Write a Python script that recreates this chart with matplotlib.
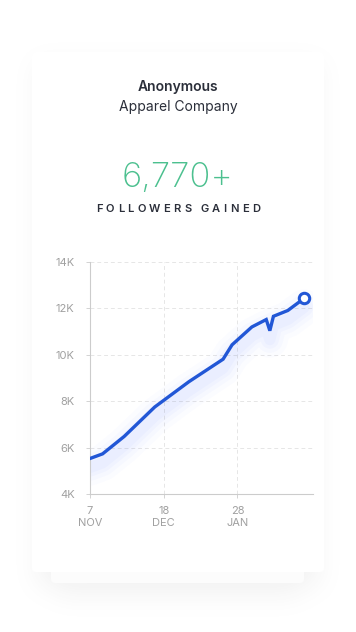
import datetime as dt
import numpy as np
import matplotlib
matplotlib.use("Agg")
import matplotlib.pyplot as plt
from matplotlib.patches import FancyBboxPatch
from matplotlib.transforms import offset_copy
from matplotlib.ticker import FuncFormatter

# ---- data ----
start = dt.date(2019, 11, 7)
day_offsets = [0, 7, 19, 36, 55, 74, 79, 90, 98, 100, 102, 110, 119]
followers = [5530, 5730, 6480, 7750, 8840, 9810, 10430, 11200, 11520, 11040, 11660, 11910, 12430]
dates = [start + dt.timedelta(days=d) for d in day_offsets]
tick_dates = [dt.date(2019, 11, 7), dt.date(2019, 12, 18), dt.date(2020, 1, 28)]
tick_labels = ["7\nNOV", "18\nDEC", "28\nJAN"]
y_ticks = [4000, 6000, 8000, 10000, 12000, 14000]

title1 = "Anonymous"
title2 = "Apparel Company"
big_number = "6,770+"
subtitle = "FOLLOWERS GAINED"

W, H = 356, 632
FONT = "Inter"
plt.rcParams['font.family'] = [FONT, 'DejaVu Sans']

fig = plt.figure(figsize=(W / 100, H / 100), dpi=100)

# ---- soft card shadow painted as an image ----
bg = fig.add_axes([0, 0, 1, 1], zorder=0)
bg.set_axis_off()
mask = np.zeros((H, W))
mask[64:585, 38:318] = 1.0
mask[585:595, 58:298] = 1.0
def blur(a, r, n=4):
    k = np.ones(2 * r + 1) / (2 * r + 1)
    for _ in range(n):
        a = np.apply_along_axis(lambda m: np.convolve(m, k, mode='same'), 0, a)
        a = np.apply_along_axis(lambda m: np.convolve(m, k, mode='same'), 1, a)
    return a
sh = blur(mask, 10)
rgba = np.zeros((H, W, 4))
rgba[..., :3] = 0.55
rgba[..., 3] = sh * 0.11
bg.imshow(np.ones((H, W, 3)), extent=[0, W, H, 0])
bg.imshow(rgba, extent=[0, W, H, 0])
bg.set_xlim(0, W)
bg.set_ylim(H, 0)

# back card and front card
bg.add_patch(FancyBboxPatch((51, 560), 253, 23, boxstyle="round,pad=0,rounding_size=4",
                            fc="#fcfcfc", ec="none", zorder=2))
bg.add_patch(FancyBboxPatch((32, 52), 292, 520, boxstyle="round,pad=0,rounding_size=4",
                            fc="white", ec="none", zorder=3))

# ---- texts ----
cx = 178
bg.text(cx, 87, title1, ha="center", va="center", fontsize=10, fontweight="semibold",
        color="#2b2f3a", zorder=5)
bg.text(cx, 107, title2, ha="center", va="center", fontsize=10, color="#2b2f3a", zorder=5)
bg.text(cx, 178, big_number, ha="center", va="center", fontsize=25, fontweight="light",
        color="#4cc08f", zorder=5)

# letter-spaced subtitle
renderer = fig.canvas.get_renderer()
track = 3.3
widths = []
for ch in subtitle:
    t = bg.text(0, 0, ch if ch != " " else "n", fontsize=8, fontweight="semibold")
    w = t.get_window_extent(renderer).width if ch != " " else 2.5
    widths.append(w)
    t.remove()
total = sum(widths) + track * (len(subtitle) - 1)
x = cx - total / 2
for ch, w in zip(subtitle, widths):
    if ch != " ":
        bg.text(x, 209, ch, ha="left", va="center", fontsize=8, fontweight="semibold",
                color="#2b2f3a", zorder=5)
    x += w + track

# ---- chart ----
ax = fig.add_axes([90 / W, 138 / H, 223 / W, 232 / H], zorder=4)
ax.patch.set_alpha(0)
line_c = "#2257d6"

# glow under the line
for lw, a in [(26, 0.018), (19, 0.026), (13, 0.034), (8, 0.04)]:
    tr = offset_copy(ax.transData, fig=fig, x=0, y=-9, units='dots')
    ax.plot(dates, followers, color="#5a78ff", lw=lw, alpha=a, transform=tr,
            solid_capstyle="round", solid_joinstyle="round", zorder=2)

ax.plot(dates, followers, color=line_c, lw=2.4, zorder=3, solid_joinstyle="miter")
ax.plot([dates[-1]], [followers[-1]], marker="o", ms=7.5, mfc="white", mec=line_c,
        mew=2.2, zorder=4)

ax.set_ylim(4000, 14000)
ax.set_xlim(start, start + dt.timedelta(days=124))
ax.set_yticks(y_ticks)
ax.yaxis.set_major_formatter(FuncFormatter(lambda v, p: f"{int(v / 1000)}K"))
ax.set_xticks(tick_dates)
ax.set_xticklabels(tick_labels)

for s in ["top", "right"]:
    ax.spines[s].set_visible(False)
for s in ["left", "bottom"]:
    ax.spines[s].set_color("#cccccc")
    ax.spines[s].set_linewidth(0.8)
ax.tick_params(axis="both", colors="#cccccc", labelcolor="#a0a0a0", labelsize=8,
               length=3, width=0.6)
ax.tick_params(axis="y", pad=8)
ax.tick_params(axis="x", pad=6)
for lab in ax.get_xticklabels():
    lab.set_linespacing(1.25)

ax.grid(True, color="#e6e6e6", linestyle=(0, (4, 3)), linewidth=0.7)
ax.set_axisbelow(True)

fig.savefig("out.png", dpi=100)
